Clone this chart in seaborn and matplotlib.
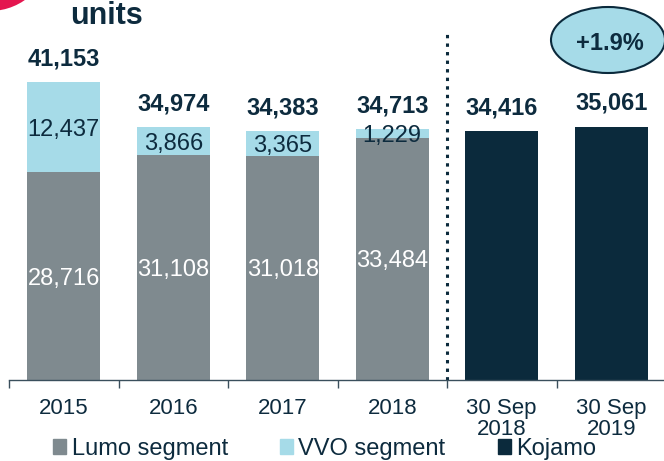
import numpy as np
import pandas as pd
import seaborn as sns
import matplotlib.pyplot as plt
from matplotlib.patches import Ellipse, Patch

sns.set_style("white")
plt.rcParams['font.family'] = ['Liberation Sans', 'DejaVu Sans']

# data
categories = ['2015', '2016', '2017', '2018', '30 Sep\n2018', '30 Sep\n2019']
seg_years = categories[:4]
lumo = [28716, 31108, 31018, 33484]
vvo = [12437, 3866, 3365, 1229]
kojamo_periods = categories[4:]
kojamo = [34416, 35061]
totals = [41153, 34974, 34383, 34713, 34416, 35061]
change_label = '+1.9%'
legend_labels = ['Lumo segment', 'VVO segment', 'Kojamo']

grey = '#7f8a8f'
light = '#a6dbe8'
navy = '#0b2a3c'
txt = '#0d2b3e'

fig = plt.figure(figsize=(6.64, 4.61), dpi=100)
ax = fig.add_axes([9/664, (461-380)/461, 657/664, 347/461])

seg_df = pd.DataFrame({'year': seg_years, 'lumo': lumo, 'vvo': vvo})
seg_df['stack'] = seg_df['lumo'] + seg_df['vvo']
koj_df = pd.DataFrame({'period': kojamo_periods, 'kojamo': kojamo})

bar_kw = dict(order=categories, width=0.667, saturation=1, errorbar=None, linewidth=0, ax=ax)
sns.barplot(data=seg_df, x='year', y='stack', color=light, **bar_kw)
sns.barplot(data=seg_df, x='year', y='lumo', color=grey, **bar_kw)
sns.barplot(data=koj_df, x='period', y='kojamo', color=navy, **bar_kw)

ax.set_xlim(-0.5, 5.5)
ax.set_ylim(0, 48000)
ax.set_xlabel('')
ax.set_ylabel('')

# totals above bars
for i, v in enumerate(totals):
    ax.annotate(f'{v:,}', (i, v), xytext=(0, 12), textcoords='offset points',
                ha='center', va='baseline', fontsize=17, fontweight='bold', color=txt)

# segment values inside bars
for i, (l, w) in enumerate(zip(lumo, vvo)):
    ax.text(i, l / 2, f'{l:,}', ha='center', va='center_baseline', fontsize=17, color='white')
    ax.text(i, l + w / 2, f'{w:,}', ha='center', va='center_baseline', fontsize=17, color=txt)

ax.set_xticks(range(len(categories)))
ax.set_xticklabels(categories, fontsize=16, color=txt, linespacing=1.0)
ax.set_xticks(np.arange(-0.5, len(categories), 1), minor=True)
ax.tick_params(axis='x', which='major', length=0, pad=13)
ax.tick_params(axis='x', which='minor', bottom=True, length=6, width=1, color='#3a4f5c')
ax.set_yticks([])
sns.despine(ax=ax, left=True)
ax.spines['bottom'].set_color('#3a4f5c')
ax.spines['bottom'].set_linewidth(1)

# divider between annual and quarter figures
ax.axvline(3.5, ymin=0, ymax=1, color=navy, lw=2.2,
           linestyle=(0, (1.1, 1.7)), clip_on=False)

# title fragment and logo arc
fig.text(70/664, 1 - 24/461, 'units', fontsize=22, fontweight='bold', color=txt, va='baseline')
fig.add_artist(Ellipse((-10/664, 1 + 50/461), 122/664, 122/461,
                       transform=fig.transFigure, facecolor='#e4164f', edgecolor='none'))

# growth bubble
fig.add_artist(Ellipse((608/664, 1 - 40/461), 114/664, 66/461, transform=fig.transFigure,
                       facecolor=light, edgecolor=navy, lw=1.5))
fig.text(610/664, 1 - 43/461, change_label, fontsize=17, fontweight='bold', color=txt,
         ha='center', va='center')

handles = [Patch(color=c, label=l) for c, l in zip([grey, light, navy], legend_labels)]
fig.legend(handles=handles, loc='center left', bbox_to_anchor=(53/664, (461-449)/461),
           ncol=3, frameon=False, fontsize=17, handlelength=0.57, handleheight=0.57,
           handletextpad=0.22, columnspacing=2.2, borderpad=0, borderaxespad=0,
           labelcolor=txt)

fig.savefig('out.png', dpi=100)
